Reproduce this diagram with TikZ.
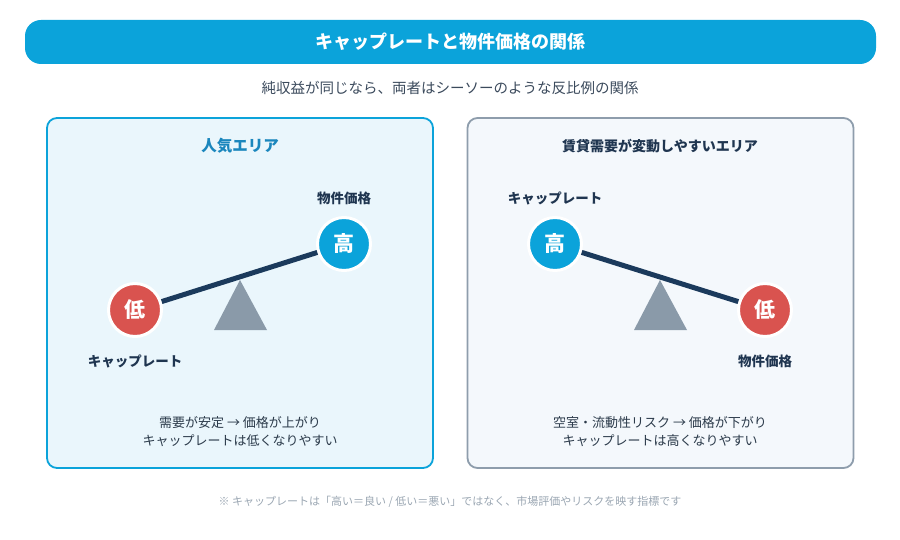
\documentclass[tikz,border=0pt]{standalone}
\usepackage{fontspec}
\setmainfont{Noto Sans CJK JP}
\usepackage{xcolor}
\usetikzlibrary{positioning}

\definecolor{brand}{HTML}{0BA3DA}
\definecolor{navy}{HTML}{1B3A5C}
\definecolor{lowred}{HTML}{D9534F}
\definecolor{pivotgray}{HTML}{8A9AA9}
\definecolor{popfill}{HTML}{EAF6FC}
\definecolor{volfill}{HTML}{F4F8FC}
\definecolor{volline}{HTML}{8E9DAC}
\definecolor{headblue}{HTML}{1A86BD}
\definecolor{labeltext}{HTML}{1F3550}
\definecolor{bodytext}{HTML}{2B3A4A}
\definecolor{subtext}{HTML}{3B4A5C}
\definecolor{notetext}{HTML}{9AA6B2}

\begin{document}
\begin{tikzpicture}[
                x=1pt, y=-1pt,
                node distance=9pt,
                panel/.style={line width=1.8pt, rounded corners=10pt, minimum width=386pt, minimum height=350pt},
                ball/.style={circle, minimum size=53pt, inner sep=0pt, draw=white, line width=3pt, text=white, font=\bfseries\fontsize{21}{24}\selectfont},
                lbl/.style={text=labeltext, inner sep=2pt, font=\bfseries\fontsize{13.5}{16}\selectfont},
                note/.style={align=center, text=bodytext, font=\fontsize{13}{18}\selectfont},
                beam/.style={line width=5pt, draw=navy},
                pivot/.style={fill=pivotgray}
            ]
                \useasboundingbox (0,0) rectangle (900,540);

                % header
                \node[fill=brand, rounded corners=16pt, minimum width=851pt, minimum height=44pt, text=white, font=\bfseries\fontsize{18}{22}\selectfont] (title) at (450.5,42) {キャップレートと物件価格の関係};
                \node[text=subtext, font=\fontsize{14.5}{18}\selectfont] (subtitle) at (450,88) {純収益が同じなら、両者はシーソーのような反比例の関係};

                % left panel
                \node[panel, draw=brand, fill=popfill] (popular) at (240,293) {};
                \node[text=headblue, font=\bfseries\fontsize{15.5}{18}\selectfont] (pophead) at (240,146) {人気エリア};
                \fill[pivotgray] (240,280) -- (267,330) -- (214,330) -- cycle;
                \node[ball, fill=lowred] (poplow) at (135,310) {低};
                \node[ball, fill=brand] (pophigh) at (344,244) {高};
                \draw[beam] (poplow) -- (pophigh);
                \node[lbl, above=of pophigh] (popprice) {物件価格};
                \node[lbl, below=15pt of poplow] (poprate) {キャップレート};
                \node[note] (popnote) at (240,432) {需要が安定 → 価格が上がり\\キャップレートは低くなりやすい};

                % right panel
                \node[panel, draw=volline, fill=volfill] (volatile) at (660.5,293) {};
                \node[text=labeltext, font=\bfseries\fontsize{14}{18}\selectfont] (volhead) at (660,146) {賃貸需要が変動しやすいエリア};
                \fill[pivotgray] (660,280) -- (687,330) -- (634,330) -- cycle;
                \node[ball, fill=brand] (volhigh) at (555,244) {高};
                \node[ball, fill=lowred] (vollow) at (765,310) {低};
                \draw[beam] (volhigh) -- (vollow);
                \node[lbl, above=of volhigh] (volrate) {キャップレート};
                \node[lbl, below=15pt of vollow] (volprice) {物件価格};
                \node[note] (volnote) at (660,432) {空室・流動性リスク → 価格が下がり\\キャップレートは高くなりやすい};

                % footnote
                \node[text=notetext, font=\fontsize{11}{14}\selectfont] (footnote) at (450,502) {※ キャップレートは「高い＝良い / 低い＝悪い」ではなく、市場評価やリスクを映す指標です};
            \end{tikzpicture}
\end{document}
